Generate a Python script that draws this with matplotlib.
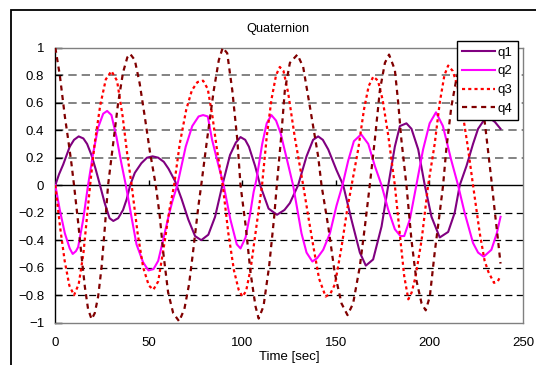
import numpy as np
import matplotlib
matplotlib.use("Agg")
import matplotlib.pyplot as plt
from matplotlib.patches import Rectangle

plt.rcParams['font.family'] = ['Liberation Sans', 'DejaVu Sans']

# (time [sec], value)
q1_pts = [(0, 0), (2, 0.08), (4.2, 0.15), (7.7, 0.28), (10, 0.33), (12.5, 0.355), (15, 0.34),
          (17, 0.3), (19.3, 0.22), (21.5, 0.12), (23.5, 0.02), (26.4, -0.13), (29, -0.24),
          (31, -0.26), (33.6, -0.24), (36.2, -0.18), (38.2, -0.1), (40, 0), (42.5, 0.09),
          (46, 0.16), (49, 0.2), (52, 0.21), (55, 0.2), (58, 0.17), (60.5, 0.12), (64, 0.03),
          (67.5, -0.1), (71.1, -0.25), (74.7, -0.37), (78, -0.40), (81.8, -0.36), (85.4, -0.23),
          (89.3, 0), (93.4, 0.22), (96.5, 0.31), (99, 0.35), (101.5, 0.33), (103.5, 0.28),
          (106.8, 0.14), (109.5, 0), (114, -0.17), (118.5, -0.215), (122.5, -0.18), (125.4, -0.13),
          (129.8, 0), (134.3, 0.21), (137.8, 0.33), (140.5, 0.355), (143, 0.33), (145.9, 0.26),
          (150.3, 0.11), (153.9, 0), (158.3, -0.25), (162.8, -0.49), (166, -0.585), (169.9, -0.54),
          (174.4, -0.3), (178, 0), (181.5, 0.28), (184.2, 0.43), (187.7, 0.45), (190.4, 0.41),
          (194, 0.26), (197.5, 0), (201.1, -0.23), (205.5, -0.38), (210, -0.34), (213.5, -0.2),
          (216.2, 0), (219.8, 0.14), (223.3, 0.3), (226, 0.41), (229, 0.47), (232, 0.49),
          (235, 0.46), (238, 0.41)]

q2_pts = [(0, 0), (2.4, -0.18), (5.1, -0.35), (7.7, -0.46), (9.3, -0.5), (11, -0.48), (12.2, -0.45),
          (14.9, -0.25), (17.5, 0), (20.2, 0.23), (22.9, 0.42), (25.6, 0.52), (27.7, 0.54), (30, 0.51),
          (32.7, 0.35), (35.3, 0.16), (37.7, 0), (40.7, -0.23), (43.4, -0.43), (46.9, -0.56),
          (49.8, -0.62), (52.5, -0.61), (55, -0.55), (57.6, -0.4), (60.3, -0.24), (62.5, -0.12),
          (65.2, 0), (69.7, 0.28), (73.2, 0.43), (76.6, 0.5), (79, 0.51), (81.5, 0.5), (83.8, 0.33),
          (87.3, 0.14), (90, 0), (93.6, -0.25), (97, -0.43), (99, -0.46), (101.7, -0.38),
          (104, -0.22), (106, -0.05), (107.5, 0.04), (110.6, 0.3), (113, 0.45), (115.5, 0.51),
          (118, 0.47), (120.4, 0.38), (122.7, 0.25), (125, 0.12), (127.1, 0), (131.6, -0.35),
          (134.3, -0.49), (137.4, -0.555), (140, -0.53), (143.2, -0.47), (146.8, -0.35),
          (150.3, -0.15), (153.5, 0), (156.6, 0.18), (159.6, 0.32), (163.5, 0.37), (167.3, 0.3),
          (170.8, 0.14), (174.4, 0), (178, -0.18), (181.5, -0.32), (184.5, -0.37), (186.5, -0.37),
          (189.5, -0.25), (193, 0), (196.6, 0.26), (200.1, 0.45), (203.5, 0.53), (207.2, 0.43),
          (211.7, 0.18), (215.3, 0), (218.8, -0.2), (223.3, -0.42), (226, -0.49), (229, -0.52),
          (233.1, -0.47), (236, -0.35), (238, -0.23)]

q3_pts = [(0, 0), (2.5, -0.3), (5, -0.55), (7.5, -0.73), (10, -0.80), (12.5, -0.72), (15, -0.5),
          (17, -0.22), (18.6, 0), (21, 0.3), (24, 0.58), (27, 0.77), (30, 0.83), (33, 0.76),
          (36, 0.5), (38.5, 0.22), (40.8, 0), (44, -0.35), (47, -0.6), (50, -0.73), (52.4, -0.76),
          (55, -0.7), (58, -0.45), (61, -0.18), (63.5, 0), (66.5, 0.3), (70, 0.55), (73, 0.69),
          (76, 0.75), (79, 0.76), (81.5, 0.7), (84, 0.5), (86.5, 0.25), (89.5, 0), (92.5, -0.35),
          (95.5, -0.62), (98, -0.76), (100, -0.81), (102, -0.77), (104.5, -0.6), (107.5, -0.3),
          (110.5, 0), (113, 0.35), (115.5, 0.62), (118, 0.8), (120, 0.86), (122, 0.83),
          (124.5, 0.67), (128, 0.35), (132.5, 0), (135.5, -0.25), (138, -0.45), (141, -0.68),
          (144.5, -0.81), (147, -0.79), (149.5, -0.72), (153, -0.45), (156, -0.18), (158.4, 0),
          (161.9, 0.26), (165, 0.55), (167.5, 0.72), (170, 0.79), (172.5, 0.76), (175, 0.62),
          (178, 0.36), (181.5, 0), (184.5, -0.4), (186.5, -0.66), (188.7, -0.83), (190.5, -0.78),
          (192.5, -0.67), (195.8, -0.4), (199.3, 0), (202.8, 0.3), (205.5, 0.6), (208, 0.8),
          (210, 0.87), (212.5, 0.83), (215, 0.72), (218, 0.5), (220.5, 0.28), (223.3, 0),
          (226.9, -0.35), (229.5, -0.55), (231.5, -0.63), (234.5, -0.71), (236.5, -0.7),
          (238, -0.66)]

q4_pts = [(0, 1.0), (2.4, 0.8), (5.1, 0.5), (6.9, 0.33), (8.6, 0.16), (10, 0), (12.2, -0.27),
          (13.9, -0.5), (15.8, -0.74), (17.5, -0.9), (19.4, -0.975), (21.1, -0.93), (22.9, -0.81),
          (24.7, -0.6), (26.4, -0.32), (28.2, 0), (30.9, 0.3), (33.6, 0.6), (36.2, 0.82),
          (38.5, 0.93), (40, 0.955), (42.5, 0.91), (45.1, 0.74), (47.8, 0.5), (50.5, 0.25),
          (53.7, 0), (55.8, -0.22), (57.8, -0.5), (60.3, -0.78), (63, -0.93), (66.2, -0.99),
          (69, -0.9), (71.5, -0.72), (73.5, -0.5), (76.5, -0.15), (78, 0), (81.1, 0.33),
          (84.7, 0.69), (87.4, 0.91), (89.5, 1.0), (91.9, 0.96), (94.6, 0.69), (97.3, 0.33),
          (99, 0), (101.8, -0.3), (104.4, -0.64), (107, -0.88), (108.7, -0.97), (111.3, -0.88),
          (114.3, -0.59), (117, -0.23), (118.4, 0), (120.6, 0.33), (122.7, 0.69), (125.4, 0.89),
          (129.4, 0.95), (132.5, 0.86), (136.1, 0.57), (140.5, 0.21), (142.3, 0), (145.9, -0.3),
          (149.4, -0.64), (153, -0.86), (156.2, -0.945), (159.2, -0.86), (162.8, -0.59),
          (165.5, -0.3), (168.1, 0), (170.8, 0.33), (173.5, 0.69), (176.2, 0.89), (178.4, 0.95),
          (181.5, 0.84), (183.3, 0.6), (185, 0.33), (187.7, 0), (190.4, -0.4), (193, -0.69),
          (195.8, -0.86), (198, -0.91), (200.2, -0.81), (202.8, -0.49), (205.5, -0.2), (207.3, 0),
          (209, 0.26), (211.7, 0.57), (214.5, 0.78), (217.5, 0.9), (221, 0.95), (224, 0.93),
          (226.5, 0.8), (229.9, 0.42), (233.1, 0.04), (235, -0.2), (236.5, -0.38), (238, -0.57)]

labels = ["q1", "q2", "q3", "q4"]
colors = ["#800080", "#FF00FF", "#FF0000", "#800000"]

x_ticks = [0, 50, 100, 150, 200, 250]
y_ticks = [-1, -0.8, -0.6, -0.4, -0.2, 0, 0.2, 0.4, 0.6, 0.8, 1]
y_ticklabels = ["\u22121", "\u22120.8", "\u22120.6", "\u22120.4", "\u22120.2", "0",
                "0.2", "0.4", "0.6", "0.8", "1"]

fig = plt.figure(figsize=(5.36, 3.65), dpi=100)
ax = fig.add_axes([0.1032, 0.1159, 0.8725, 0.7534])

# grid (excel style dashed)
for yv in y_ticks:
    if yv == 0:
        ax.axhline(0, color="black", lw=1.0, zorder=2)
    elif yv > 0:
        ax.axhline(yv, color="#6e6e6e", lw=1.2, dashes=(5, 3), zorder=1)
    elif yv > -1:
        ax.axhline(yv, color="black", lw=0.9, dashes=(5.5, 3.5), zorder=1)

# x axis tick marks sit on the zero line
ax.vlines(x_ticks[1:-1], 0, 0.04, color="black", lw=1.0, zorder=2)

series = [q1_pts, q2_pts, q3_pts, q4_pts]
handles = []
for i, pts in enumerate(series):
    t, v = np.array(pts).T
    if i < 2:
        ln, = ax.plot(t, v, color=colors[i], lw=1.5, label=labels[i], zorder=3)
    elif i == 2:
        ln, = ax.plot(t, v, color=colors[i], lw=1.6, dashes=(1.4, 1.4), label=labels[i], zorder=3)
    else:
        ln, = ax.plot(t, v, color=colors[i], lw=1.6, dashes=(2.3, 2.0), label=labels[i], zorder=3)
    handles.append(ln)

ax.set_xlim(0, 250)
ax.set_ylim(-1, 1)
ax.set_xticks(x_ticks)
ax.set_xticklabels([str(x) for x in x_ticks], fontsize=9.5)
ax.set_yticks(y_ticks)
ax.set_yticklabels(y_ticklabels, fontsize=9.5)
ax.tick_params(axis="x", length=0, pad=10.5)
ax.tick_params(axis="y", direction="in", length=5, width=1, pad=8)

for s in ["top", "right", "bottom"]:
    ax.spines[s].set_color("#808080")
    ax.spines[s].set_linewidth(1.0)
ax.spines["left"].set_color("black")
ax.spines["left"].set_linewidth(1.0)

ax.set_xlabel("Time [sec]", fontsize=9.5, labelpad=1.5)
fig.text(278 / 536, 1 - 29 / 365, "Quaternion", ha="center", va="center", fontsize=9.2)

leg = ax.legend(handles=handles, loc="upper left",
                bbox_to_anchor=(457 / 536, 1 - 41 / 365), bbox_transform=fig.transFigure,
                fontsize=9.5, frameon=True, fancybox=False, framealpha=1, edgecolor="black",
                borderaxespad=0, borderpad=0.4, handlelength=2.5, handletextpad=0.2,
                labelspacing=0.5)
leg.get_frame().set_linewidth(1.0)
leg.set_zorder(5)

# outer chart frame (cut by the image edges)
fig.patches.append(Rectangle((11 / 536, -0.1), 1.2, 1.1 - 9.5 / 365,
                             transform=fig.transFigure, fill=False,
                             edgecolor="black", lw=1.3))

fig.savefig("out.png", dpi=100)
